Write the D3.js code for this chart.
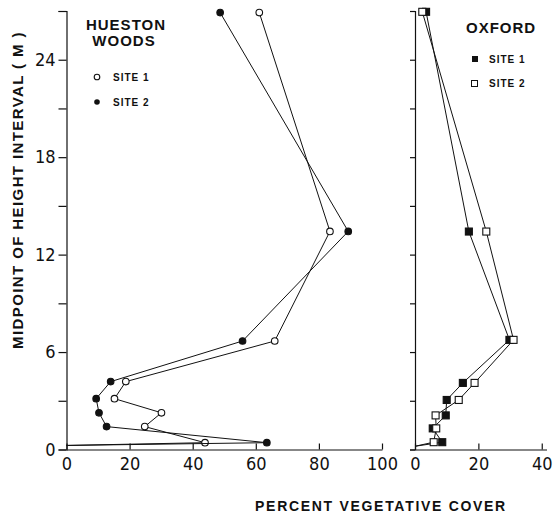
<!DOCTYPE html>
<html>
<head>
<meta charset="utf-8">
<script src="https://cdnjs.cloudflare.com/ajax/libs/d3/7.8.5/d3.min.js"></script>
<style>
  body { margin: 0; background: #fff; }
  .tick text { font-family: "Liberation Sans Narrow", "DejaVu Sans Condensed", sans-serif; font-size: 18px; fill: #111; }
  .bold { font-family: "Liberation Sans", Arial, sans-serif; font-weight: bold; fill: #111; }
</style>
</head>
<body>
<div id="chart"></div>
<script>

// Height midpoints (m) for each panel, bottom to top
var hwHeights = [0.25, 0.42, 1.41, 2.26, 3.13, 4.18, 6.68, 13.43, 26.9];
var oxHeights = [0.2, 0.45, 1.3, 2.1, 3.05, 4.1, 6.75, 13.42, 26.95];

// Percent vegetative cover, Hueston Woods
var hwSite1 = [0, 43.9, 24.8, 30.1, 15.2, 18.8, 66.0, 83.5, 61.1];
var hwSite2 = [0, 63.5, 12.7, 10.3, 9.4, 14.0, 55.8, 89.3, 48.7];

// Percent vegetative cover, Oxford
var oxSite1 = [0, 8.6, 5.6, 9.7, 10.0, 15.1, 29.8, 17.0, 3.5];
var oxSite2 = [0, 5.9, 6.7, 6.5, 13.8, 18.8, 31.1, 22.5, 2.3];

var hwTicks = [0, 20, 40, 60, 80, 100];
var oxTicks = [0, 20, 40];
var yTicks = [0, 3, 6, 9, 12, 15, 18, 21, 24, 27];
var yLabels = [0, 6, 12, 18, 24];

var svgWidth = 560;
var svgHeight = 518;

var svg = d3.select("#chart")
    .append("svg")
    .attr("width", svgWidth)
    .attr("height", svgHeight);

// scales
var yScale = d3.scaleLinear().domain([0, 27]).range([449.5, 11]);
var xLeft = d3.scaleLinear().domain([0, 100]).range([66.5, 382]);
var xRight = d3.scaleLinear().domain([0, 41.5]).range([415, 546.5]);

// y axes (labels only on the left panel)
var leftAxis = d3.axisLeft(yScale)
    .tickValues(yTicks)
    .tickSize(8)
    .tickPadding(3)
    .tickFormat(d => yLabels.indexOf(d) >= 0 ? d : "");

svg.append("g")
    .attr("transform", `translate(${xLeft(0)}, 0)`)
    .call(leftAxis);

var rightAxis = d3.axisLeft(yScale)
    .tickValues(yTicks)
    .tickSize(5)
    .tickFormat("");

svg.append("g")
    .attr("transform", `translate(${xRight(0)}, 0)`)
    .call(rightAxis);

// x axes, ticks point up into the plot
var bottomLeft = d3.axisBottom(xLeft)
    .tickValues(hwTicks)
    .tickSizeInner(-6)
    .tickSizeOuter(0)
    .tickPadding(8);

svg.append("g")
    .attr("transform", `translate(0, ${yScale(0)})`)
    .call(bottomLeft);

var bottomRight = d3.axisBottom(xRight)
    .tickValues(oxTicks)
    .tickSizeInner(-6)
    .tickSizeOuter(0)
    .tickPadding(8);

svg.append("g")
    .attr("transform", `translate(0, ${yScale(0)})`)
    .call(bottomRight);

svg.selectAll(".domain, .tick line").attr("stroke", "#111").attr("stroke-width", 1.2);

// helper to draw one profile line with its markers
function drawSeries(values, heights, xScale, shape, filled) {
    var pts = values.map((v, i) => ({ x: v, y: heights[i] }));

    var line = d3.line()
        .x(d => xScale(d.x))
        .y(d => yScale(d.y));

    svg.append("path")
        .datum(pts)
        .attr("d", line)
        .attr("fill", "none")
        .attr("stroke", "#111")
        .attr("stroke-width", 1);

    var marks = pts.filter(d => d.x > 0);

    if (shape === "circle") {
        svg.selectAll(null)
            .data(marks)
            .enter()
            .append("circle")
            .attr("cx", d => xScale(d.x))
            .attr("cy", d => yScale(d.y))
            .attr("r", 3.3)
            .attr("fill", filled ? "#111" : "#fff")
            .attr("stroke", "#111")
            .attr("stroke-width", 1.1);
    } else {
        svg.selectAll(null)
            .data(marks)
            .enter()
            .append("rect")
            .attr("x", d => xScale(d.x) - 3.5)
            .attr("y", d => yScale(d.y) - 3.5)
            .attr("width", 7)
            .attr("height", 7)
            .attr("fill", filled ? "#111" : "#fff")
            .attr("stroke", "#111")
            .attr("stroke-width", 1.1);
    }
}

drawSeries(hwSite1, hwHeights, xLeft, "circle", false);
drawSeries(hwSite2, hwHeights, xLeft, "circle", true);
drawSeries(oxSite1, oxHeights, xRight, "square", true);
drawSeries(oxSite2, oxHeights, xRight, "square", false);

// panel titles
svg.append("text").attr("class", "bold")
    .attr("x", 126).attr("y", 30)
    .attr("text-anchor", "middle")
    .style("font-size", "15px").style("letter-spacing", "1px")
    .text("HUESTON");

svg.append("text").attr("class", "bold")
    .attr("x", 124).attr("y", 46)
    .attr("text-anchor", "middle")
    .style("font-size", "15px").style("letter-spacing", "1px")
    .text("WOODS");

svg.append("text").attr("class", "bold")
    .attr("x", 466).attr("y", 33)
    .style("font-size", "15px").style("letter-spacing", "1px")
    .text("OXFORD");

// legends
svg.append("circle").attr("cx", 97).attr("cy", 77).attr("r", 2.8)
    .attr("fill", "#fff").attr("stroke", "#111").attr("stroke-width", 1.1);
svg.append("circle").attr("cx", 97).attr("cy", 102).attr("r", 2.8)
    .attr("fill", "#111");
svg.append("text").attr("class", "bold").attr("x", 113).attr("y", 81)
    .style("font-size", "10px").style("letter-spacing", "1px").text("SITE 1");
svg.append("text").attr("class", "bold").attr("x", 113).attr("y", 106)
    .style("font-size", "10px").style("letter-spacing", "1px").text("SITE 2");

svg.append("rect").attr("x", 472).attr("y", 56).attr("width", 6).attr("height", 6)
    .attr("fill", "#111");
svg.append("rect").attr("x", 471.5).attr("y", 80.5).attr("width", 6).attr("height", 6)
    .attr("fill", "#fff").attr("stroke", "#111").attr("stroke-width", 1);
svg.append("text").attr("class", "bold").attr("x", 489).attr("y", 63)
    .style("font-size", "10px").style("letter-spacing", "1px").text("SITE 1");
svg.append("text").attr("class", "bold").attr("x", 489).attr("y", 87)
    .style("font-size", "10px").style("letter-spacing", "1px").text("SITE 2");

// axis titles
svg.append("text").attr("class", "bold")
    .attr("transform", "translate(23, 190) rotate(-90)")
    .attr("text-anchor", "middle")
    .style("font-size", "15px").style("letter-spacing", "1.4px")
    .text("MIDPOINT OF HEIGHT INTERVAL ( M )");

svg.append("text").attr("class", "bold")
    .attr("x", 381).attr("y", 511)
    .attr("text-anchor", "middle")
    .style("font-size", "14px").style("letter-spacing", "1.7px")
    .text("PERCENT VEGETATIVE COVER");

</script>
</body>
</html>
